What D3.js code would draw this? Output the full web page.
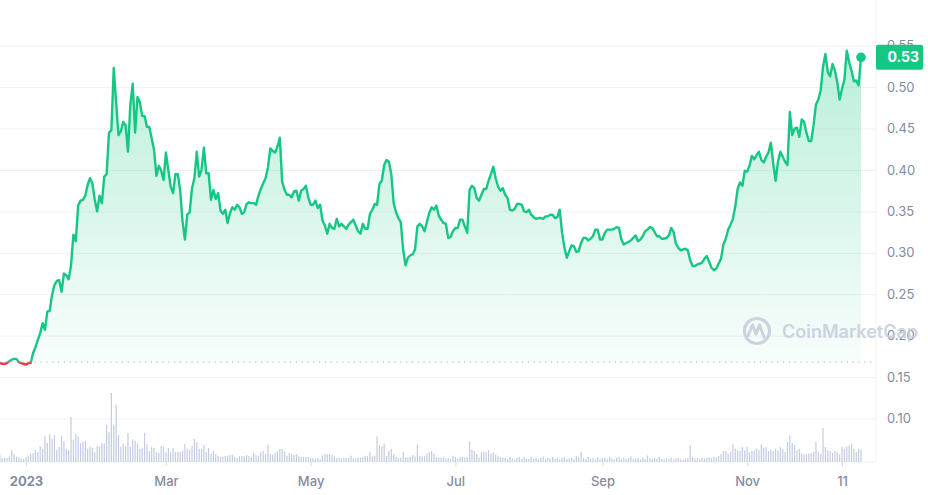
<!DOCTYPE html>
<html><head><meta charset="utf-8">
<script src="https://cdn.jsdelivr.net/npm/d3@7"></script>
<style>html,body{margin:0;padding:0;background:#fff;} svg{display:block;font-family:Inter,"Noto Sans",sans-serif;}</style>
</head><body><svg id="chart" width="928" height="495"></svg>
<script>
// ---------------- data ----------------
const startDate = "2022-12-20";
const prices = [
0.168,0.167,0.166,0.166,0.167,0.169,0.171,0.172,0.172,0.168,
0.167,0.166,0.165,0.167,0.167,0.179,0.186,0.195,0.203,0.215,
0.207,0.229,0.230,0.249,0.261,0.266,0.267,0.253,0.275,0.273,
0.268,0.285,0.322,0.314,0.357,0.363,0.364,0.369,0.382,0.390,
0.384,0.364,0.350,0.369,0.360,0.392,0.395,0.445,0.448,0.523,
0.482,0.442,0.447,0.458,0.454,0.422,0.479,0.504,0.445,0.488,
0.482,0.465,0.465,0.452,0.452,0.438,0.424,0.393,0.405,0.399,
0.388,0.421,0.400,0.380,0.372,0.395,0.395,0.376,0.338,0.316,
0.346,0.349,0.378,0.390,0.422,0.392,0.400,0.427,0.396,0.396,
0.364,0.376,0.365,0.372,0.351,0.347,0.352,0.336,0.348,0.355,
0.352,0.358,0.355,0.347,0.349,0.359,0.361,0.360,0.360,0.358,
0.369,0.377,0.384,0.390,0.403,0.426,0.423,0.421,0.428,0.439,
0.386,0.376,0.370,0.370,0.367,0.374,0.375,0.363,0.375,0.377,
0.381,0.367,0.358,0.358,0.363,0.354,0.358,0.339,0.333,0.323,
0.335,0.330,0.329,0.341,0.332,0.335,0.332,0.329,0.334,0.337,
0.340,0.333,0.326,0.323,0.335,0.329,0.329,0.347,0.352,0.359,
0.358,0.383,0.387,0.406,0.412,0.410,0.395,0.360,0.349,0.342,
0.337,0.304,0.285,0.294,0.297,0.298,0.304,0.332,0.335,0.332,
0.326,0.337,0.348,0.355,0.352,0.357,0.345,0.340,0.336,0.335,
0.318,0.319,0.326,0.330,0.330,0.340,0.340,0.332,0.324,0.376,
0.381,0.378,0.366,0.363,0.370,0.377,0.377,0.387,0.395,0.404,
0.390,0.380,0.375,0.378,0.370,0.366,0.352,0.351,0.353,0.359,
0.359,0.358,0.350,0.349,0.352,0.346,0.343,0.341,0.342,0.342,
0.341,0.344,0.344,0.346,0.346,0.342,0.343,0.352,0.324,0.306,
0.294,0.302,0.309,0.308,0.301,0.302,0.312,0.318,0.318,0.315,
0.317,0.320,0.328,0.328,0.316,0.316,0.324,0.328,0.328,0.328,
0.329,0.331,0.330,0.316,0.310,0.312,0.313,0.315,0.318,0.321,
0.314,0.316,0.320,0.326,0.328,0.331,0.330,0.325,0.320,0.320,
0.317,0.317,0.318,0.321,0.330,0.325,0.311,0.306,0.303,0.304,
0.305,0.303,0.291,0.284,0.284,0.286,0.287,0.288,0.293,0.296,
0.289,0.282,0.279,0.281,0.287,0.293,0.310,0.317,0.328,0.334,
0.341,0.356,0.377,0.385,0.381,0.399,0.398,0.405,0.417,0.413,
0.418,0.422,0.412,0.409,0.416,0.421,0.433,0.408,0.387,0.410,
0.422,0.416,0.410,0.406,0.470,0.442,0.450,0.451,0.440,0.461,
0.458,0.445,0.435,0.435,0.454,0.479,0.485,0.496,0.525,0.540,
0.518,0.513,0.528,0.520,0.506,0.485,0.498,0.509,0.544,0.530,
0.520,0.507,0.508,0.502,0.536
];
// daily volume (millions USD)
const volumes = [
6,
7.3,4,4,4,5.7,12,8,5.3,4.7,3.7, 3,4.7,6.3,8,9,12,9.7,16,13,26,
19,28,23,27,12,15,26,20.7,13.3,12, 45,22.3,28,25.7,18.7,20,21,13.3,15.3,14.3,
9.7,16.3,15.3,18.7,18.7,37,29.7,69,37,57, 27,15.3,18.7,16,29,15.3,22.7,21.3,18.7,13.3,
13.7,29,18,11,
15,14,9.7,9,16,15.3,9.7,14,9.7,14, 10,10,10,11.3,18,13.3,12,16,23,19.7,
13.3,13,17,10,14,8.3,11,8,6,5.3, 5.3,6,6.3,7,7,5,4,5.7,6,6,
7,6,5.3,9,7,6,9.7,11,8.3,17, 8,7.3,9,10.7,13,13,11,6,9,8,
7,8,6,5,5,5,5,
4,3.7,3.3,4.3,2.7,6.7,8.3,7.7,7.7,7, 5.7,3.7,4.3,3.7,4.3,4,4.3,6.3,3.7,3.7,
4.3,4.3,5,6.3,5.7,10,5.7,6.3,25.7,16.7, 15.7,18.3,6.3,11,13,7.7,5,3.7,4.3,10,
5,4.3,5,7,5.7,17.3,6.3,5.7,6.3,8.3, 9.7,11,8.3,5,4.3,4.3,5,3.7,4,3,
6.3,5,3.3,5,5,4.3,5,20.3,12.3,11, 8.3,4.3,9.7,10.3,9.7,11.7,8.3,9.7,7.7,5.7,
5,4.3,
4,3,5,3.5,2.5,4,5,3,4.5,3,3.5,5,3,4,2.5,4.5,5.5,3,4,3.5,5,3,4.5,2.5,4,5,3,3.5,4.5,3,6,5,
10,
4,3,5,3.5,4,2.5,5,3,4,4.5,3,5,3.5,2.5,4,5,3,4.5,3,4,5.5,3,3.5,4,2.5,4.5,3,6.5,4,3,4,3.5,5,3,2.5,4,3,4.5,2.5,3.5,4,3,2.5,3.5,4,
16.7,
5,3.5,4,3,4.5,3.5,4,5,4,5,4.5,6,8,
10.7,11,8.3,10.3,17.7,13.3,11.7,11,15,11.7,15,10,11,11.7,13.3,11.7,17.3,14.3,15,11,
12.3,11,13.3,11.7,15,13,10,20,26.7,19,16.7,11.7,13.3,9,7.7,7.7,8.3,9,10,20,
10,8.3,34,15,11.7,11,9,11,10,7.7,15,13.3,15.7,16.7,18.3,13.3,10,13.3,12.3
];
const priceTicks = [0.10,0.15,0.20,0.25,0.30,0.35,0.40,0.45,0.50,0.55];
const dateTickValues = ["2023-01-01","2023-03-01","2023-05-01","2023-07-01","2023-09-01","2023-11-01","2023-12-11"];
const dateTickLabels = ["2023","Mar","May","Jul","Sep","Nov","11"];
const lastPriceLabel = "0.53";
const watermarkText = "CoinMarketCap";

// ---------------- chart ----------------
const parse = d3.timeParse("%Y-%m-%d");
const start = parse(startDate);
const data = prices.map((p,i)=>({date:d3.timeDay.offset(start,i), price:p, vol:volumes[i]}));
const svg = d3.select("#chart");
const W = 876, volBase = 462;
const up = "#16c784", down = "#ea3943";

const x = d3.scaleTime().domain([data[0].date, data[data.length-1].date]).range([-2.5, 861]);
const y = d3.scaleLinear().domain([0.10, 0.55]).range([418.5, 45.7]);
const yv = d3.scaleLinear().domain([0, 100]).range([volBase, volBase-100]);
const basePrice = prices[0];
const yBase = y(basePrice);

const defs = svg.append("defs");
const gUp = defs.append("linearGradient").attr("id","gUp").attr("gradientUnits","userSpaceOnUse")
  .attr("x1",0).attr("x2",0).attr("y1",y(0.55)).attr("y2",yBase);
gUp.append("stop").attr("offset",0).attr("stop-color",up).attr("stop-opacity",0.3);
gUp.append("stop").attr("offset",1).attr("stop-color",up).attr("stop-opacity",0.03);
const gDn = defs.append("linearGradient").attr("id","gDn").attr("gradientUnits","userSpaceOnUse")
  .attr("x1",0).attr("x2",0).attr("y1",yBase).attr("y2",y(0.10));
gDn.append("stop").attr("offset",0).attr("stop-color",down).attr("stop-opacity",0.03);
gDn.append("stop").attr("offset",1).attr("stop-color",down).attr("stop-opacity",0.3);
defs.append("clipPath").attr("id","cUp").append("rect").attr("x",0).attr("y",0).attr("width",W).attr("height",yBase);
defs.append("clipPath").attr("id","cDn").append("rect").attr("x",0).attr("y",yBase).attr("width",W).attr("height",volBase-yBase);

// grid + y axis labels
const yAxis = svg.append("g").attr("transform",`translate(${W},0)`)
  .call(d3.axisRight(y).tickValues(priceTicks).tickFormat(d3.format(".2f")).tickSizeInner(-W).tickSizeOuter(0).tickPadding(11));
yAxis.select(".domain").remove();
yAxis.selectAll(".tick line").attr("stroke","#eff2f5");
yAxis.selectAll(".tick text").attr("fill","#858ca0").attr("font-size","13px").attr("font-family","Inter");

svg.append("line").attr("x1",W).attr("x2",W).attr("y1",0).attr("y2",volBase).attr("stroke","#eff2f5");
svg.append("line").attr("x1",0).attr("x2",W).attr("y1",volBase).attr("y2",volBase).attr("stroke","#eff2f5");

// volume bars
svg.append("g").selectAll("rect").data(data).join("rect")
  .attr("x",d=>x(d.date)-0.6).attr("width",1.2)
  .attr("y",d=>yv(d.vol)).attr("height",d=>volBase-yv(d.vol))
  .attr("fill","#c3cbe0");

// areas
const area = d3.area().x(d=>x(d.date)).y0(yBase).y1(d=>y(d.price));
svg.append("path").datum(data).attr("d",area).attr("fill","url(#gUp)").attr("clip-path","url(#cUp)");
svg.append("path").datum(data).attr("d",area).attr("fill","url(#gDn)").attr("clip-path","url(#cDn)");

// baseline dotted
svg.append("line").attr("x1",0).attr("x2",W).attr("y1",yBase).attr("y2",yBase)
  .attr("stroke","#a6b0c3").attr("stroke-width",1).attr("stroke-dasharray","1.2,4.6");

// lines
const line = d3.line().x(d=>x(d.date)).y(d=>y(d.price));
svg.append("path").datum(data).attr("d",line).attr("fill","none").attr("stroke",up)
  .attr("stroke-width",2.4).attr("stroke-linejoin","round").attr("clip-path","url(#cUp)");
svg.append("path").datum(data).attr("d",line).attr("fill","none").attr("stroke",down)
  .attr("stroke-width",2.4).attr("stroke-linejoin","round").attr("clip-path","url(#cDn)");

// end dot
const last = data[data.length-1];
svg.append("circle").attr("cx",x(last.date)).attr("cy",y(last.price)).attr("r",4.8).attr("fill",up);

// x axis
const xAxis = svg.append("g").attr("transform",`translate(0,${volBase})`)
  .call(d3.axisBottom(x).tickValues(dateTickValues.map(parse)).tickFormat((d,i)=>dateTickLabels[i]).tickSizeInner(4).tickSizeOuter(0).tickPadding(11));
xAxis.select(".domain").remove();
xAxis.selectAll(".tick line").attr("stroke","#d5dbe6");
xAxis.selectAll(".tick text").attr("fill","#858ca0").attr("font-size","13px").attr("font-family","Inter")
  .attr("font-weight",(d,i)=>i===0?700:500);

// watermark
const wm = svg.append("g").attr("opacity",0.85);
wm.append("circle").attr("cx",757).attr("cy",331).attr("r",12.5).attr("fill","none").attr("stroke","#c6ccda").attr("stroke-width",3.2);
wm.append("path").attr("d","M748,336 L752.5,325 L756,334 L759.5,325 L764,337")
  .attr("fill","none").attr("stroke","#c6ccda").attr("stroke-width",3).attr("stroke-linejoin","round").attr("stroke-linecap","round");
wm.append("text").attr("x",782).attr("y",338).text(watermarkText)
  .attr("font-size","18px").attr("font-weight",600).attr("fill","#c6ccda").attr("font-family","Inter");

// last price label
const ly = y(last.price);
svg.append("rect").attr("x",W).attr("y",ly-12.5).attr("width",47).attr("height",25).attr("rx",2).attr("fill",up);
svg.append("text").attr("x",887.5).attr("y",ly+5).text(lastPriceLabel)
  .attr("fill","#fff").attr("font-size","14px").attr("font-weight",700).attr("font-family","Inter");
</script></body></html>
